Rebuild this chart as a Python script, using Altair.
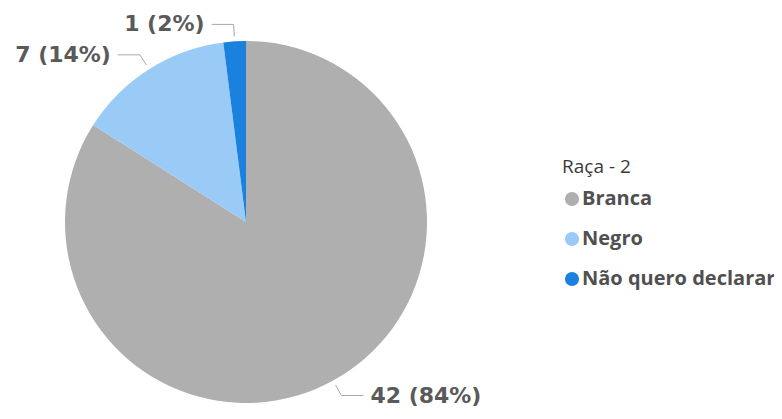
import math
import altair as alt
import pandas as pd

# ---- data ----
categories = ["Branca", "Negro", "Não quero declarar"]
counts = [42, 7, 1]
percents = [84, 14, 2]
colors = ["#AFAFAF", "#9ACBF6", "#1A82DE"]
legend_title = "Raça - 2"

# ---- layout (pixels inside the plot area) ----
W, H = 766, 403
CX, CY, R = 238, 214, 181
R1, R2, HL, GAP = R + 5, R + 17, 22, 7

total = sum(counts)
pie_df = pd.DataFrame({"cat": categories, "n": counts, "order": list(range(len(categories)))})

# leader lines and label anchors derived from the data
line_rows, text_rows = [], []
cum = 0
for i, (c, n, p) in enumerate(zip(categories, counts, percents)):
    mid = (cum + n / 2) / total * 2 * math.pi
    cum += n
    sx, cy_ = math.sin(mid), math.cos(mid)
    x1, y1 = CX + R1 * sx, CY - R1 * cy_
    x2, y2 = CX + R2 * sx, CY - R2 * cy_
    side = 1 if sx >= 0 else -1
    x3 = x2 + side * HL
    for k, (x, y) in enumerate([(x1, y1), (x2, y2), (x3, y2)]):
        line_rows.append({"cat": c, "k": k, "x": x, "y": y})
    text_rows.append({"cat": c, "x": x3 + side * GAP, "y": y2,
                      "label": f"{n} ({p}%)", "side": "right" if side > 0 else "left"})
line_df = pd.DataFrame(line_rows)
text_df = pd.DataFrame(text_rows)

xs = alt.Scale(domain=[0, W], nice=False, zero=False)
ys = alt.Scale(domain=[H, 0], nice=False, zero=False)

pie = alt.Chart(pie_df).mark_arc(outerRadius=R, strokeWidth=0).encode(
    theta=alt.Theta("n:Q", stack=True),
    order=alt.Order("order:Q"),
    color=alt.Color("cat:N", scale=alt.Scale(domain=categories, range=colors),
                    sort=categories,
                    legend=alt.Legend(title=legend_title, orient="none", legendX=554, legendY=150,
                                      symbolType="circle", symbolSize=200, symbolStrokeWidth=0,
                                      labelFontSize=20, labelFontWeight="bold", labelColor="#505050",
                                      labelFont="Open Sans", titleFont="Open Sans",
                                      titleFontSize=19, titleFontWeight="normal", titleColor="#3A3A3A",
                                      rowPadding=20, titlePadding=12, labelOffset=0,
                                      labelLimit=400)),
    x=alt.value(CX), y=alt.value(CY),
)

lines = alt.Chart(line_df).mark_line(color="#A8A8A8", strokeWidth=1).encode(
    x=alt.X("x:Q", scale=xs, axis=None),
    y=alt.Y("y:Q", scale=ys, axis=None),
    detail="cat:N",
    order="k:Q",
)

def text_layer(side, align):
    return alt.Chart(text_df).transform_filter(alt.datum.side == side).mark_text(
        align=align, baseline="middle", font="DejaVu Sans", fontSize=22, fontWeight="bold",
        color="#5A5A5A"
    ).encode(
        x=alt.X("x:Q", scale=xs, axis=None),
        y=alt.Y("y:Q", scale=ys, axis=None),
        text="label:N",
    )

chart = alt.layer(pie, lines, text_layer("right", "left"), text_layer("left", "right")).properties(
    width=W, height=H, padding=0, background="white",
    autosize=alt.AutoSizeParams(type="none")
).configure_view(stroke=None, strokeWidth=0)

chart.save("out.html", embed_options={"renderer": "svg", "actions": False})
